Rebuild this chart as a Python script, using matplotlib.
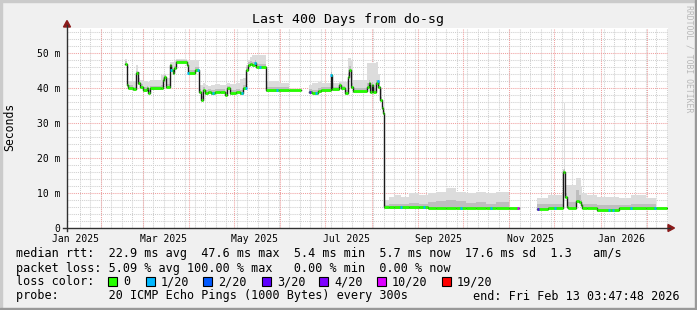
import numpy as np
import matplotlib
matplotlib.use("Agg")
import matplotlib.pyplot as plt
from matplotlib.patches import Polygon, Rectangle
from matplotlib.lines import Line2D

W, H = 697, 310
nan = np.nan

# ── data: step change points, day offset from 2025-01-01 ──
days = [
    47.2, 48.3, 48.9, 49.2, 52.7, 54.3, 55.7, 56.1, 57.2, 59.4, 61.7, 62.7, 63.9, 71.0, 72.7, 73.4,
    74.5, 77.2, 77.9, 79.0, 79.9, 81.2, 88.7, 89.2, 93.9, 96.7, 98.3, 99.4, 100.5, 102.7, 105.0,
    107.2, 110.5, 113.9, 115.7, 117.2, 121.7, 123.9, 126.1, 128.3, 129.4, 130.5, 132.3, 133.9,
    135.0, 141.7, 150.0, 157.0, 164.5,
    170.5, 172.5, 176.1, 178.5, 185.0, 185.5, 190.0, 191.7, 193.9, 196.1, 197.2, 198.3, 199.4,
    209.0, 210.5, 211.1, 212.0, 212.7, 214.9, 216.0, 216.5, 217.9, 218.7, 219.4,
    220.1, 223.9, 227.2, 231.7, 237.2, 243.9, 249.4, 255.0, 261.7, 268.3, 275.0, 281.7, 288.3,
    295.0, 303.9, 310.5,
    322.7, 330.0, 340.1, 340.7, 341.3, 342.3, 343.2, 348.6, 350.5, 351.7, 352.7, 356.0, 362.5,
    377.2, 385.0, 395.0, 402.0, 409.0,
]
median_ms = [
    47.0, 46.6, 40.9, 40.0, 39.6, 44.2, 44.7, 41.3, 40.4, 39.4, 39.9, 38.7, 39.9, 39.9, 42.3, 43.2,
    40.4, 46.6, 45.1, 44.2, 45.6, 47.5, 46.6, 44.2, 45.1, 38.9, 36.6, 39.4, 38.5, 38.9, 38.5,
    38.9, 38.9, 38.0, 39.9, 38.5, 38.9, 38.5, 39.9, 45.1, 46.6, 47.0, 46.6, 47.2,
    46.1, 39.4, 39.4, 39.4, nan,
    38.9, 38.7, 39.1, 39.4, 43.7, 39.6, 40.9, 39.9, 38.5, 43.2, 45.1, 40.4, 39.1,
    40.4, 41.3, 38.9, 40.9, 38.9, 41.3, 42.1, 40.4, 36.6, 34.2, 32.8,
    5.9, 5.9, 5.9, 5.9, 5.9, 5.9, 5.8, 5.8, 5.8, 5.8, 5.8, 5.8, 5.8,
    5.8, 5.8, nan,
    5.5, 5.7, 16.1, 16.1, 8.9, 6.0, 5.7, 7.8, 7.5, 6.6, 5.7, 5.7, 5.1,
    5.6, 5.6, 5.6, 5.6, nan,
]
smoke_max_ms = [
    48.2, 48.0, 42.5, 42.0, 42.0, 46.6, 46.6, 43.0, 42.2, 42.0, 42.0, 41.8, 42.3, 43.7, 43.7, 44.0,
    43.0, 47.3, 47.3, 47.5, 48.0, 48.3, 48.1, 48.1, 48.0, 41.0, 41.0, 41.5, 41.0, 40.5, 41.0,
    41.2, 40.8, 41.0, 41.4, 41.2, 41.4, 42.5, 42.8, 46.5, 48.0, 49.0, 49.4, 49.4,
    49.4, 42.0, 41.5, 42.3, nan,
    41.0, 41.5, 41.7, 41.3, 46.6, 41.5, 41.7, 41.7, 41.7, 48.5, 48.5, 48.0, 42.3,
    47.1, 47.1, 47.1, 47.1, 47.1, 47.5, 45.0, 44.0, 40.0, 37.0, 35.0,
    8.0, 8.9, 9.4, 8.9, 9.9, 9.4, 9.9, 10.4, 11.3, 10.4, 9.9, 10.4, 9.9,
    10.4, 9.9, nan,
    8.6, 9.4, 16.8, 35.7, 12.3, 12.3, 12.3, 14.3, 14.3, 12.0, 10.0, 9.4, 9.0,
    8.6, 9.4, 8.6, 9.2, nan,
]
smoke_mid_ms = [
    47.6, 47.2, 41.6, 40.8, 40.4, 45.0, 45.5, 42.0, 41.2, 40.2, 40.7, 39.5, 40.7, 40.8, 43.0, 43.6,
    41.2, 47.0, 46.0, 45.0, 46.4, 48.0, 47.4, 45.2, 46.0, 39.7, 37.6, 40.2, 39.3, 39.7, 39.3,
    39.7, 39.7, 38.8, 40.7, 39.3, 39.7, 39.3, 40.8, 45.9, 47.4, 47.8, 47.4, 48.0,
    47.0, 40.2, 40.2, 40.4, nan,
    39.7, 39.5, 39.9, 40.2, 44.5, 40.4, 41.3, 40.7, 39.3, 44.2, 46.2, 41.5, 39.9,
    41.4, 42.3, 40.0, 41.8, 40.0, 42.3, 43.0, 41.5, 37.5, 35.0, 33.6,
    6.6, 6.8, 7.0, 6.8, 7.2, 7.0, 7.3, 7.6, 8.0, 7.6, 7.2, 7.4, 7.0,
    7.3, 7.0, nan,
    6.8, 7.0, 16.5, 17.0, 10.0, 8.0, 7.5, 11.0, 9.5, 8.0, 7.0, 6.8, 6.5,
    6.7, 7.0, 6.8, 6.8, nan,
]

# packet loss events (lost pings out of 20)
loss_days = [78.0, 89.3, 96.0, 106.1, 125.5, 128.0, 134.0, 137.5, 148.7, 170.5, 175.0, 185.0,
             216.2, 231.8, 246.9, 271.9, 291.9, 309.8, 322.9, 334.6, 370.5, 373.2, 385.0, 401.2]
loss_count = [1, 1, 1, 1, 1, 1, 1, 1, 1, 3, 1, 1,
              1, 1, 1, 1, 1, 10, 3, 1, 1, 1, 1, 1]

loss_levels = [0, 1, 2, 3, 4, 10, 19]
loss_labels = ["0", "1/20", "2/20", "3/20", "4/20", "10/20", "19/20"]
loss_colors = ["#26ff00", "#00b8ff", "#0059ff", "#5e00ff", "#7e00ff", "#dd00ff", "#ff0000"]

ytick_vals = [0, 10, 20, 30, 40, 50]
ytick_labels = ["0", "10 m", "20 m", "30 m", "40 m", "50 m"]

stats_lines = [
    "median rtt:  22.9 ms avg  47.6 ms max  5.4 ms min  5.7 ms now  17.6 ms sd  1.3   am/s",
    "packet loss: 5.09 % avg 100.00 % max   0.00 % min  0.00 % now",
]

days = np.array(days)
median_ms = np.array(median_ms)
smoke_max_ms = np.array(smoke_max_ms)
smoke_mid_ms = np.array(smoke_mid_ms)
assert len(days) == len(median_ms) == len(smoke_max_ms) == len(smoke_mid_ms)

MONO = "DejaVu Sans Mono"
BACK = "#f0f0f0"


def fx(x):
    return x / W


def fy(y):
    return 1 - y / H


fig = plt.figure(figsize=(W / 100, H / 100), dpi=100, facecolor=BACK)
ax = fig.add_axes([fx(67), fy(228), (668 - 67) / W, (228 - 28) / H])
ax.set_facecolor("white")
for s in ax.spines.values():
    s.set_visible(False)

XMIN, XMAX = 8.5, 410.0
YMAX = 200 / 3.5
ax.set_xlim(XMIN, XMAX)
ax.set_ylim(0, YMAX)

# ── grid ──
base = np.datetime64("2025-01-01")
month_starts = np.arange("2025-01", "2026-03", dtype="datetime64[M]").astype("datetime64[D]")
month_days = (month_starts - base).astype(float)
week_days = np.arange(17, XMAX, 7)
dot = (0, (1, 1))
for d in week_days:
    ax.axvline(d, color="#cfcfcf", lw=0.75, ls=dot, zorder=0)
for v in np.arange(2, YMAX, 2):
    if v % 10:
        ax.axhline(v, color="#cfcfcf", lw=0.75, ls=dot, zorder=0)
for d in month_days:
    ax.axvline(d, color="#f0a0a0", lw=0.75, ls=dot, zorder=0.5)
for v in ytick_vals[1:]:
    ax.axhline(v, color="#f0a0a0", lw=0.75, ls=dot, zorder=0.5)

# ── smoke ──
lo = median_ms - 0.4
ax.fill_between(days, lo, smoke_max_ms, step="post", color="#dcdcdc", lw=0, zorder=1)
ax.fill_between(days, lo, smoke_mid_ms, step="post", color="#bebebe", lw=0, zorder=1.2)

# ── median line with loss colouring ──
ax.step(days, median_ms, where="post", color="#1a1a1a", lw=1.0, zorder=3)
ok = ~np.isnan(median_ms[:-1])
ax.hlines(median_ms[:-1][ok], days[:-1][ok], days[1:][ok], colors=loss_colors[0],
          lw=2.0, zorder=4)
for d, c in zip(loss_days, loss_count):
    i = np.searchsorted(days, d, side="right") - 1
    col = loss_colors[loss_levels.index(c)]
    ax.hlines(median_ms[i], d - 0.6, d + 0.7, colors=col, lw=2.0, zorder=5)

# ── ticks ──
label_months = month_starts[::2]
label_days = (label_months - base).astype(float) + 14
label_text = [m.astype(object).strftime("%b %Y") for m in label_months]
ax.set_xticks(label_days, label_text, fontsize=7, family=MONO)
ax.set_yticks(ytick_vals, ytick_labels, fontsize=7, family=MONO)
ax.tick_params(axis="x", length=0, pad=4.0)
ax.tick_params(axis="y", length=0, pad=5.0)

# ── axes with arrows ──
AX_COL = "#303030"
ARROW = "#8b1a1a"
fig.add_artist(Line2D([fx(67), fx(67)], [fy(231), fy(25)], color=AX_COL, lw=1.0,
                      transform=fig.transFigure))
fig.add_artist(Line2D([fx(63), fx(670)], [fy(228), fy(228)], color=AX_COL, lw=1.0,
                      transform=fig.transFigure))
fig.add_artist(Polygon([(fx(63.5), fy(27)), (fx(70.5), fy(27)), (fx(67), fy(20.5))],
                       closed=True, color=ARROW, transform=fig.transFigure))
fig.add_artist(Polygon([(fx(668), fy(224.5)), (fx(668), fy(231.5)), (fx(674.5), fy(228))],
                       closed=True, color=ARROW, transform=fig.transFigure))

# ── texts ──
fig.text(fx(348), fy(19.5), "Last 400 Days from do-sg", ha="center", va="center",
         fontsize=9.5, family=MONO)
fig.text(fx(10), fy(127), "Seconds", ha="center", va="center", rotation=90,
         fontsize=8.3, family=MONO)
fig.text(fx(688.5), fy(5), "RRDTOOL / TOBI OETIKER", ha="center", va="top", rotation=270,
         fontsize=5.9, family=MONO, color="#b8b8b8")

for y, line in zip([254, 268.3], stats_lines):
    fig.text(fx(16), fy(y), line, ha="left", va="center", fontsize=8.5, family=MONO)

fig.text(fx(16), fy(281.7), "loss color:", ha="left", va="center", fontsize=8.5, family=MONO)
box_x = [108, 146, 203, 262, 319, 377, 442]
for bx, col, lab in zip(box_x, loss_colors, loss_labels):
    fig.add_artist(Rectangle((fx(bx), fy(286)), 9 / W, 9 / H, facecolor=col,
                             edgecolor="black", lw=0.8, transform=fig.transFigure))
    fig.text(fx(bx + 15), fy(281.7), lab, ha="left", va="center", fontsize=8.5, family=MONO)

fig.text(fx(16), fy(296), "probe:       20 ICMP Echo Pings (1000 Bytes) every 300s",
         ha="left", va="center", fontsize=8.5, family=MONO)
fig.text(fx(680), fy(296), "end: Fri Feb 13 03:47:48 2026", ha="right", va="center",
         fontsize=8.5, family=MONO)

# ── 3D frame ──
fig.add_artist(Rectangle((0, fy(2)), 1, 2 / H, color="#cbcbcb", transform=fig.transFigure))
fig.add_artist(Rectangle((0, 0), 2 / W, 1, color="#cbcbcb", transform=fig.transFigure))
fig.add_artist(Rectangle((0, 0), 1, 2 / H, color="#999999", transform=fig.transFigure))
fig.add_artist(Rectangle((fx(695), 0), 2 / W, 1, color="#999999", transform=fig.transFigure))

fig.savefig("out.png", dpi=100, facecolor=BACK)
plt.close(fig)
